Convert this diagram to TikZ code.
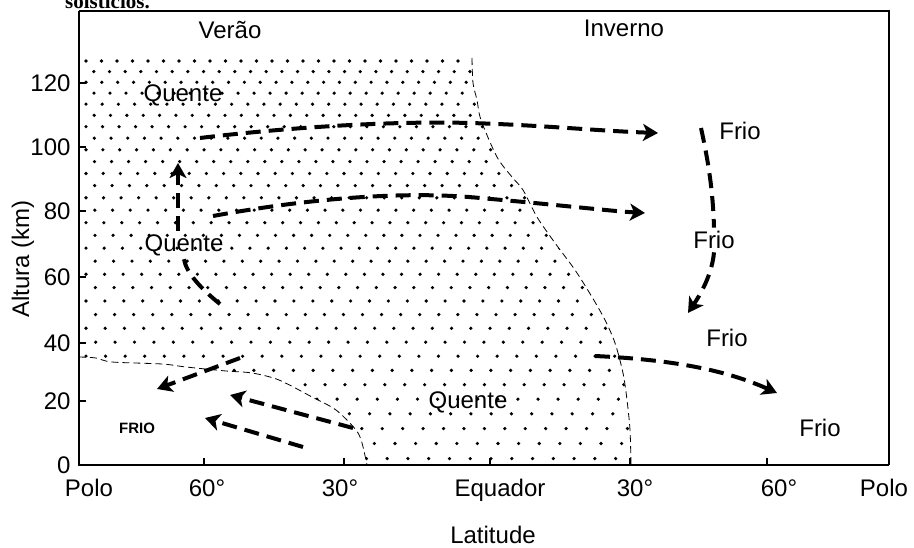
\documentclass[tikz,border=0pt]{standalone}
\usepackage{fontspec}
\setmainfont{Liberation Sans}
\newfontfamily\capfont{Liberation Serif}
\usetikzlibrary{arrows.meta}

\begin{document}
\begin{tikzpicture}[x=1pt,y=-1pt,font=\fontsize{24}{28}\selectfont]
	\tikzset{wind/.style={line width=4pt,dash pattern=on 15pt off 8pt},
		windtip/.style={wind,-{Stealth[length=15pt,width=17pt,inset=4pt]}},
		border/.style={line width=0.8pt,dash pattern=on 7pt off 4pt},
		frame/.style={line width=1.6pt}}
	\useasboundingbox (0,0) rectangle (914,548);

	\node[anchor=base west,inner sep=0pt,font=\capfont\bfseries\fontsize{21}{24}\selectfont] (caption) at (65,9) {solsticios.};

	\begin{scope}
	\clip (79,58) -- (472,58) -- (473,83) -- (477,100) -- (481,120) -- (497,157) -- (512,177)
		-- (523,190) -- (537,217) -- (555,243) -- (575,270) -- (592,297) -- (605,320) -- (615,343)
		-- (623,373) -- (627,400) -- (630,430) -- (631,465) -- (367,465) -- (362,443) -- (356,430)
		-- (336,410) -- (312,397) -- (279,380) -- (252,373) -- (226,371) -- (186,367) -- (162,364)
		-- (112,362) -- (96,358) -- (79,357) -- cycle;
	\foreach \r in {0,...,31}{
		\pgfmathsetmacro\yy{61+10.5*\r+0.075*\r*\r}
		\pgfmathsetmacro\dx{15.5+0.17*\r}
		\pgfmathsetmacro\off{mod(\r,2)*\dx/2}
		\foreach \c in {0,...,40}
			\fill (86+\off+\c*\dx,\yy) circle[radius=1.8];
	}
	\end{scope}

	\draw[border] plot[smooth] coordinates {(472,58) (473,83) (477,100) (481,120) (497,157) (512,177)
		(523,190) (537,217) (555,243) (575,270) (592,297) (605,320) (615,343) (623,373) (627,400)
		(630,430) (631,465)};
	\draw[border] plot[smooth] coordinates {(79,357) (96,358) (112,362) (162,364) (186,367) (226,371)
		(252,373) (279,380) (312,397) (336,410) (356,430) (362,443) (367,465)};

	\draw[frame] (79,11) -- (889,11) -- (889,465);
	\draw[frame] (79,11) -- (79,465) -- (889,465);
	\foreach \v/\yy in {0/465,20/401,40/343,60/277,80/211,100/147,120/83}{
		\draw[frame] (79,\yy) -- (86,\yy);
		\node[anchor=east] (yt\v) at (74,\yy) {\v};
	}
	\foreach \xx in {204,344,490,630,767}
		\draw[frame] (\xx,465) -- (\xx,458);
	\foreach \lab/\xx [count=\i] in {Polo/89,60°/207,30°/340,Equador/500,30°/635,60°/779,Polo/884}
		\node[anchor=base] (xt\i) at (\xx,496) {\lab};
	\node[anchor=base] (latitude) at (493,543) {Latitude};
	\node[rotate=90] (altura) at (23,259) {Altura (km)};

	\node (verao) at (230,30) {Verão};
	\node (inverno) at (624,28) {Inverno};
	\node (qA) at (183,95) {Quente};
	\node (qB) at (184,245) {Quente};
	\node (qC) at (468,402) {Quente};
	\node (fA) at (740,131) {Frio};
	\node (fB) at (714,240) {Frio};
	\node (fC) at (727,338) {Frio};
	\node (fD) at (820,428) {Frio};
	\node[font=\bfseries\fontsize{15}{18}\selectfont] (frio) at (137,428) {FRIO};

	\coordinate (a1s) at (200,138);
	\coordinate (a1e) at (658,133);
	\coordinate (a2s) at (213,216);
	\coordinate (a2e) at (645,213);
	\coordinate (a3s) at (220,304);
	\coordinate (a3e) at (178,163);
	\coordinate (a4s) at (240,358);
	\coordinate (a4e) at (157,389);
	\coordinate (a5s) at (353,428);
	\coordinate (a5e) at (230,395);
	\coordinate (a6s) at (303,447);
	\coordinate (a6e) at (205,418);
	\coordinate (a7s) at (701,128);
	\coordinate (a7e) at (688,313);
	\coordinate (a8s) at (595,356);
	\coordinate (a8e) at (777,393);

	\draw[windtip] (a1s) .. controls (300,126) and (400,121) .. (470,123) .. controls (540,125) and (600,131) .. (a1e);
	\draw[windtip] (a2s) .. controls (300,200) and (400,190) .. (480,198) .. controls (560,205) and (610,211) .. (a2e);
	\draw[wind] (a3s) .. controls (200,288) and (186,272) .. (qB.south);
	\draw[windtip] (qB.north -| a3e) -- (a3e);
	\draw[windtip] (a4s) -- (a4e);
	\draw[windtip] (a5s) -- (a5e);
	\draw[windtip] (a6s) -- (a6e);
	\draw[wind] (a7s) .. controls (708,160) and (713,190) .. (fB.north);
	\draw[windtip] (fB.south) .. controls (712,275) and (700,295) .. (a7e);
	\draw[windtip] (a8s) .. controls (680,360) and (730,372) .. (a8e);
\end{tikzpicture}
\end{document}
